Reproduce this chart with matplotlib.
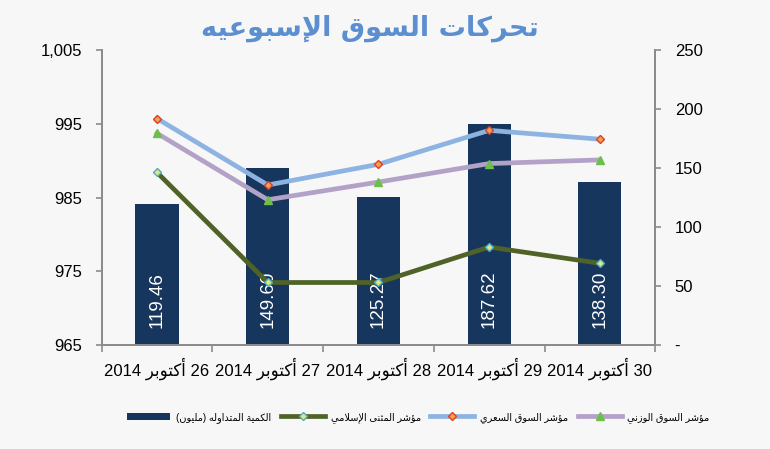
import re
import matplotlib
matplotlib.use("Agg")
import matplotlib.pyplot as plt
from matplotlib.ticker import FuncFormatter, FixedLocator

# ==========================================================
# DATA
# ==========================================================
dias = ["26 أكتوبر 2014", "27 أكتوبر 2014", "28 أكتوبر 2014",
        "29 أكتوبر 2014", "30 أكتوبر 2014"]
quantidade = [119.46, 149.60, 125.27, 187.62, 138.30]      # right axis (bars)
indice_preco = [995.7, 986.7, 989.5, 994.1, 992.9]         # مؤشر السوق السعري
indice_ponderado = [993.7, 984.7, 987.1, 989.6, 990.1]     # مؤشر السوق الوزني
indice_islamico = [988.4, 973.5, 973.5, 978.3, 976.1]      # مؤشر المثنى الإسلامي

titulo = "تحركات السوق الإسبوعيه"
nome_barras = "الكمية المتداوله (مليون)"
nome_islamico = "مؤشر المثنى الإسلامي"
nome_preco = "مؤشر السوق السعري"
nome_ponderado = "مؤشر السوق الوزني"

# ==========================================================
# ARABIC SHAPING (matplotlib has no shaping / bidi)
# forms: isolated, final, initial, medial
# ==========================================================
FORMS = {
    "ا": (0xFE8D, 0xFE8E, None, None), "أ": (0xFE83, 0xFE84, None, None),
    "إ": (0xFE87, 0xFE88, None, None), "ؤ": (0xFE85, 0xFE86, None, None),
    "ب": (0xFE8F, 0xFE90, 0xFE91, 0xFE92), "ة": (0xFE93, 0xFE94, None, None),
    "ت": (0xFE95, 0xFE96, 0xFE97, 0xFE98), "ث": (0xFE99, 0xFE9A, 0xFE9B, 0xFE9C),
    "ح": (0xFEA1, 0xFEA2, 0xFEA3, 0xFEA4), "د": (0xFEA9, 0xFEAA, None, None),
    "ر": (0xFEAD, 0xFEAE, None, None), "ز": (0xFEAF, 0xFEB0, None, None),
    "س": (0xFEB1, 0xFEB2, 0xFEB3, 0xFEB4), "ش": (0xFEB5, 0xFEB6, 0xFEB7, 0xFEB8),
    "ع": (0xFEC9, 0xFECA, 0xFECB, 0xFECC), "ق": (0xFED5, 0xFED6, 0xFED7, 0xFED8),
    "ك": (0xFED9, 0xFEDA, 0xFEDB, 0xFEDC), "ل": (0xFEDD, 0xFEDE, 0xFEDF, 0xFEE0),
    "م": (0xFEE1, 0xFEE2, 0xFEE3, 0xFEE4), "ن": (0xFEE5, 0xFEE6, 0xFEE7, 0xFEE8),
    "ه": (0xFEE9, 0xFEEA, 0xFEEB, 0xFEEC), "و": (0xFEED, 0xFEEE, None, None),
    "ى": (0xFEEF, 0xFEF0, None, None), "ي": (0xFEF1, 0xFEF2, 0xFEF3, 0xFEF4),
}
LAMALEF = {"ا": (0xFEFB, 0xFEFC), "أ": (0xFEF7, 0xFEF8), "إ": (0xFEF9, 0xFEFA)}


def ar(s):
    tokens = []
    i = 0
    while i < len(s):
        if s[i] == "ل" and i + 1 < len(s) and s[i + 1] in LAMALEF:
            tokens.append(("LA", s[i + 1]))
            i += 2
        else:
            tokens.append(s[i])
            i += 1

    def dual(t):
        return isinstance(t, str) and t in FORMS and FORMS[t][2] is not None

    def letter(t):
        return isinstance(t, tuple) or t in FORMS

    out = []
    for k, t in enumerate(tokens):
        prev_j = k > 0 and dual(tokens[k - 1])
        if isinstance(t, tuple):
            iso, fin = LAMALEF[t[1]]
            out.append(chr(fin if prev_j else iso))
            continue
        if t not in FORMS:
            out.append(t)
            continue
        next_j = dual(t) and k + 1 < len(tokens) and letter(tokens[k + 1])
        iso, fin, ini, med = FORMS[t]
        if prev_j and next_j:
            c = med
        elif prev_j:
            c = fin
        elif next_j:
            c = ini
        else:
            c = iso
        out.append(chr(c))
    vis = "".join(out)[::-1]
    vis = vis.translate(str.maketrans("()", ")("))
    return re.sub(r"[0-9.,]+", lambda m: m.group()[::-1], vis)


# ==========================================================
# FIGURE
# ==========================================================
fundo = "#F7F7F7"
cinza = "#8C8C8C"
fontes = ["Liberation Sans", "DejaVu Sans"]
plt.rcParams["font.family"] = fontes

fig = plt.figure(figsize=(7.7, 4.49), dpi=100, facecolor=fundo)
ax = fig.add_axes([0.132, 0.231, 0.719, 0.658])
ax.set_facecolor(fundo)

x = list(range(len(dias)))

# bars -> right axis
barras = ax.bar(x, quantidade, width=0.39, color="#17365D", zorder=2,
                label=ar(nome_barras))
for xi, v in zip(x, quantidade):
    ax.text(xi, 15, f"{v:.2f}", rotation=90, ha="center", va="bottom",
            color="white", fontsize=13.5, family=fontes, zorder=3)

ax.set_ylim(0, 250)
ax.set_xlim(-0.5, len(dias) - 0.5)

# lines -> left axis
ax2 = ax.twinx()
ax.yaxis.tick_right()
ax2.yaxis.tick_left()
ax.yaxis.set_major_locator(FixedLocator([0, 50, 100, 150, 200, 250]))
ax.yaxis.set_major_formatter(FuncFormatter(lambda v, p: "-" if v == 0 else f"{v:.0f}"))

ax2.plot(x, indice_islamico, color="#4F6228", lw=3.4, marker="D", ms=4,
         mfc="#E3E67A", mec="#4BACC6", mew=1, zorder=4, label=ar(nome_islamico))
ax2.plot(x, indice_preco, color="#8DB3E2", lw=3.4, marker="D", ms=4.5,
         mfc="#F6A04D", mec="#D8402A", mew=1, zorder=4, label=ar(nome_preco))
ax2.plot(x, indice_ponderado, color="#B3A2C7", lw=3.4, marker="^", ms=6,
         mfc="#6CC04A", mec="#6CC04A", zorder=4, label=ar(nome_ponderado))
ax2.set_ylim(965, 1005)
ax2.yaxis.set_major_locator(FixedLocator([965, 975, 985, 995, 1005]))
ax2.yaxis.set_major_formatter(FuncFormatter(lambda v, p: f"{v:,.0f}"))

# x axis: ticks at boundaries, labels at centres
ax.xaxis.set_major_locator(FixedLocator([i - 0.5 for i in range(len(dias) + 1)]))
ax.xaxis.set_major_formatter(FuncFormatter(lambda v, p: ""))
ax.xaxis.set_minor_locator(FixedLocator(x))
ax.set_xticklabels([ar(d) for d in dias], minor=True)
ax.tick_params(axis="x", which="major", length=5, color=cinza, width=1.2)
ax.tick_params(axis="x", which="minor", length=0, pad=9, labelsize=12)

ax.tick_params(axis="y", length=4, color=cinza, width=1.2, pad=10, labelsize=12)
ax2.tick_params(axis="y", length=4, color=cinza, width=1.2, pad=10, labelsize=12)

for a in (ax, ax2):
    a.spines["top"].set_visible(False)
    for s in ("left", "right", "bottom"):
        a.spines[s].set_color(cinza)
        a.spines[s].set_linewidth(1.3)

fig.text(0.481, 0.937, ar(titulo), ha="center", va="center", fontsize=19.5,
         fontweight="bold", color="#5B8FD0", family=["DejaVu Sans"])

handles = [barras] + ax2.get_lines()
fig.legend(handles, [h.get_label() for h in handles], loc="center",
           bbox_to_anchor=(0.543, 0.071), ncol=4, frameon=False, fontsize=7,
           handlelength=4.5, columnspacing=1.0, handletextpad=0.6)

fig.savefig("out.png", dpi=100, facecolor=fundo)
